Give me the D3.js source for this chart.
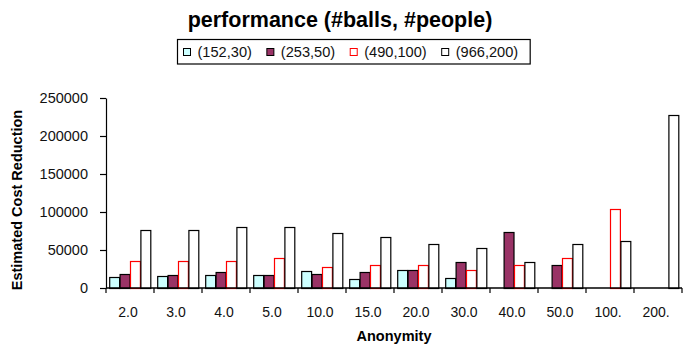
<!DOCTYPE html>
<html>
<head>
<meta charset="utf-8">
<script src="https://cdn.jsdelivr.net/npm/d3@7"></script>
<style>
  html, body { margin: 0; padding: 0; background: #fff; }
  svg { display: block; font-family: "Liberation Sans", Arial, Helvetica, sans-serif; }
</style>
</head>
<body>
<svg id="chart" width="683" height="345"></svg>
<script>
// Anonymity levels on the x axis
const categories = ["2.0", "3.0", "4.0", "5.0", "10.0", "15.0", "20.0", "30.0", "40.0", "50.0", "100.", "200."];

// Series names (#balls, #people)
const seriesNames = ["(152,30)", "(253,50)", "(490,100)", "(966,200)"];

// Estimated cost reduction per anonymity level; null = no bar
const s152_30  = [14000, 15700, 17500, 17500, 22300, 11400, 23600, 12700, null, null, null, null];
const s253_50  = [18800, 17500, 21000, 17500, 18800, 20600, 23600, 33700, 73500, 30200, null, null];
const s490_100 = [35000, 35000, 35000, 39800, 27100, 30200, 30200, 24000, 30200, 39400, 104000, null];
const s966_200 = [75700, 75700, 80400, 80400, 72600, 66500, 57300, 52100, 34500, 58100, 61300, 227400];

const yTicks = [0, 50000, 100000, 150000, 200000, 250000];

const seriesValues = [s152_30, s253_50, s490_100, s966_200];
const fills   = ["#ccffff", "#993366", "#ffffff", "#ffffff"];
const strokes = ["#000000", "#000000", "#ff0000", "#000000"];

const svg = d3.select("#chart");
const plot = { left: 106, right: 682, top: 98, bottom: 288 };

const x0 = d3.scaleBand().domain(categories).range([plot.left, plot.right]).padding(0);
const x1 = d3.scaleBand().domain(seriesNames).range([3.2, x0.bandwidth() - 3.2]).padding(0);
const y = d3.scaleLinear().domain([0, 250000]).range([plot.bottom, plot.top]);

// Bars
const rows = categories.map((c, i) => ({ cat: c, vals: seriesValues.map((s, k) => ({ k, name: seriesNames[k], v: s[i] })) }));
const groups = svg.append("g").selectAll("g").data(rows).join("g")
  .attr("transform", d => `translate(${x0(d.cat)},0)`);
groups.selectAll("rect").data(d => d.vals.filter(e => e.v != null)).join("rect")
  .attr("x", e => x1(e.name) + 0.5)
  .attr("y", e => Math.round(y(e.v)) + 0.5)
  .attr("width", x1.bandwidth() - 0.5)
  .attr("height", e => plot.bottom - Math.round(y(e.v)))
  .attr("fill", e => fills[e.k])
  .attr("stroke", e => strokes[e.k])
  .attr("stroke-width", 1.2);

// Y axis
const yAxis = svg.append("g").attr("transform", `translate(${plot.left},0)`)
  .call(d3.axisLeft(y).tickValues(yTicks).tickFormat(d3.format("d")).tickSize(6).tickSizeOuter(0).tickPadding(12));
yAxis.select(".domain").attr("stroke", "#000").attr("stroke-width", 1.2);
yAxis.selectAll(".tick line").attr("stroke", "#000").attr("stroke-width", 1.2);
yAxis.selectAll("text").attr("font-size", 14.5).attr("fill", "#111")
  .attr("font-family", "\"Liberation Sans\", Arial, sans-serif");

// X axis: baseline, boundary ticks and category labels
svg.append("line").attr("x1", plot.left).attr("x2", plot.right)
  .attr("y1", plot.bottom).attr("y2", plot.bottom)
  .attr("stroke", "#000").attr("stroke-width", 1.4);
const edges = categories.map(c => x0(c)).concat([x0.range()[1]]);
svg.append("g").selectAll("line").data(edges).join("line")
  .attr("x1", d => d).attr("x2", d => d)
  .attr("y1", plot.bottom).attr("y2", plot.bottom + 5)
  .attr("stroke", "#000").attr("stroke-width", 1.2);
const xAxis = svg.append("g").attr("transform", `translate(-2,${plot.bottom})`)
  .call(d3.axisBottom(x0).tickSize(0).tickPadding(19));
xAxis.select(".domain").remove();
xAxis.selectAll("text").attr("font-size", 14).attr("fill", "#111")
  .attr("font-family", "\"Liberation Sans\", Arial, sans-serif");

// Axis titles
svg.append("text").attr("x", 394).attr("y", 341).attr("text-anchor", "middle")
  .attr("font-size", 14.5).attr("font-weight", "bold").attr("fill", "#000").text("Anonymity");
svg.append("text").attr("transform", "translate(21.5,200) rotate(-90)").attr("text-anchor", "middle")
  .attr("font-size", 14.5).attr("font-weight", "bold").attr("fill", "#000").text("Estimated Cost Reduction");

// Title
svg.append("text").attr("x", 340).attr("y", 27).attr("text-anchor", "middle")
  .attr("font-size", 21.5).attr("font-weight", "bold").attr("fill", "#000")
  .text("performance (#balls, #people)");

// Legend
const legend = svg.append("g");
const box = legend.append("rect").attr("fill", "#fff").attr("stroke", "#000").attr("stroke-width", 1.2);
let cx = 183;
let textEnd = cx;
seriesNames.forEach((name, k) => {
  legend.append("rect").attr("x", cx + 0.5).attr("y", 48.5).attr("width", 7).attr("height", 7)
    .attr("fill", fills[k]).attr("stroke", strokes[k]).attr("stroke-width", 1);
  const t = legend.append("text").attr("x", cx + 14.5).attr("y", 56.5)
    .attr("font-size", 14.6).attr("fill", "#111").text(name);
  textEnd = cx + 14.5 + t.node().getComputedTextLength();
  cx = textEnd + 14.5;
});
box.attr("x", 177.5).attr("y", 39.5).attr("width", textEnd + 12 - 177.5).attr("height", 24.5);
</script>
</body>
</html>
